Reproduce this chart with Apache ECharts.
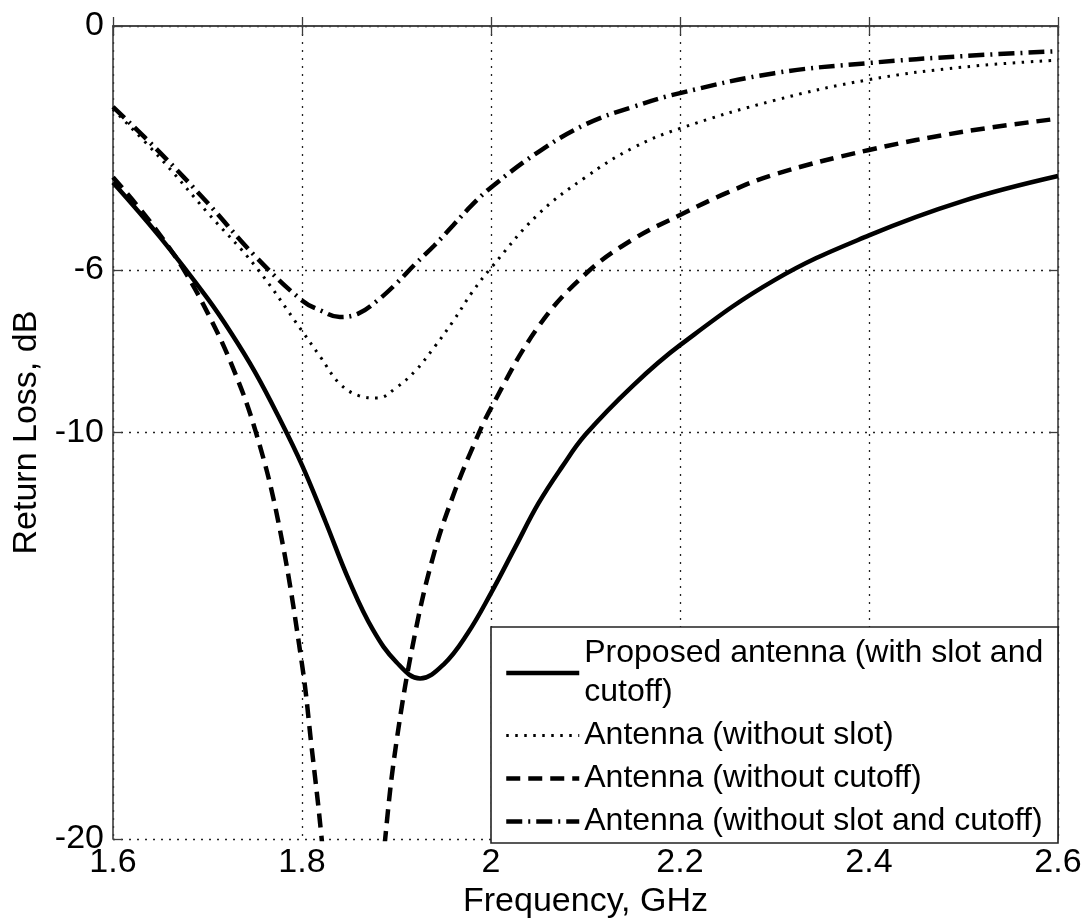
<!DOCTYPE html>
<html><head><meta charset="utf-8">
<script src="https://cdn.jsdelivr.net/npm/echarts@6/dist/echarts.min.js"></script>
<style>html,body{margin:0;padding:0;background:#fff}#c{width:1092px;height:924px}</style>
</head><body><div id="c"></div>
<script>
const freqProposed = [1.6,1.65,1.7,1.725,1.75,1.775,1.8,1.825,1.85,1.875,1.9,1.925,1.95,1.975,2.0,2.025,2.05,2.075,2.1,2.15,2.2,2.3,2.4,2.5,2.6];
const proposed = [-3.85,-5.2,-6.7,-7.55,-8.5,-9.6,-10.8,-12.2,-13.65,-14.85,-15.65,-16.05,-15.7,-14.95,-13.95,-12.85,-11.75,-10.85,-10.05,-8.85,-7.85,-6.25,-5.15,-4.3,-3.69];
const freq = [1.6,1.65,1.7,1.75,1.8,1.82,1.84,1.86,1.88,1.9,1.92,1.94,1.96,1.98,2.0,2.05,2.1,2.15,2.2,2.3,2.4,2.5,2.6];
const withoutSlot = [-2.05,-3.25,-4.59,-5.89,-7.5,-8.16,-8.8,-9.09,-9.15,-8.89,-8.48,-7.9,-7.26,-6.55,-5.95,-4.63,-3.72,-3.0,-2.52,-1.83,-1.32,-1.01,-0.84];
const withoutSlotCutoff = [-1.99,-3.12,-4.35,-5.65,-6.75,-7.0,-7.16,-7.07,-6.75,-6.33,-5.85,-5.4,-4.9,-4.4,-3.97,-3.1,-2.42,-1.99,-1.65,-1.16,-0.91,-0.74,-0.62];
const freqCutoff = [1.6,1.625,1.65,1.675,1.7,1.725,1.75,1.775,1.8,1.81,1.82,1.835,1.855,1.875,1.888,1.9,1.92,1.94,1.96,1.98,2.0,2.05,2.1,2.15,2.2,2.25,2.3,2.4,2.5,2.6];
const withoutCutoff = [-3.72,-4.4,-5.15,-6.0,-7.05,-8.3,-9.9,-12.2,-15.7,-17.7,-19.8,-23.5,-27,-23.5,-20.0,-17.6,-14.9,-12.95,-11.55,-10.4,-9.4,-7.4,-6.1,-5.25,-4.65,-4.1,-3.65,-3.05,-2.6,-2.28];
const yTicks = [-20,-10,-6,0];
const seriesNames = ['Proposed antenna (with slot and\ncutoff)','Antenna (without slot)','Antenna (without cutoff)','Antenna (without slot and cutoff)'];

const FONT = "'Liberation Sans', Arial, sans-serif";
const pairs = (xs, ys) => xs.map((f,i)=>[f,ys[i]]);
const axisLine = {show:true, lineStyle:{color:'#3c3c3c', width:1.6}};
const tick = {show:true, inside:true, length:9, lineStyle:{color:'#3c3c3c', width:1.3}};
const gridLine = {show:true, lineStyle:{color:'#222', width:1.3, type:[2,6]}};

const chart = echarts.init(document.getElementById('c'), null, {renderer:'canvas'});
chart.setOption({
  backgroundColor:'#fff',
  animation:false,
  grid:{left:113, top:26, right:34, bottom:81, containLabel:false},
  xAxis:[{
    type:'value', min:1.6, max:2.6, interval:0.2, position:'bottom',
    name:'Frequency, GHz', nameLocation:'middle', nameGap:44,
    nameTextStyle:{fontFamily:FONT, fontSize:34, color:'#000'},
    axisLine:axisLine, axisTick:tick,
    axisLabel:{fontFamily:FONT, fontSize:34, color:'#000', margin:7, formatter:v=>String(+v.toFixed(1))},
    splitLine:gridLine
  },{
    type:'value', min:1.6, max:2.6, interval:0.2, position:'top',
    axisLine:axisLine, axisTick:tick,
    axisLabel:{show:false}, splitLine:{show:false}
  }],
  yAxis:[{
    type:'value', min:-20, max:0, position:'left',
    name:'Return Loss, dB', nameLocation:'middle', nameGap:60, nameRotate:90,
    nameTextStyle:{fontFamily:FONT, fontSize:34, color:'#000'},
    axisLine:axisLine,
    axisTick:Object.assign({customValues:yTicks}, tick),
    axisLabel:{fontFamily:FONT, fontSize:34, color:'#000', margin:9, customValues:yTicks},
    splitLine:gridLine
  },{
    type:'value', min:-20, max:0, position:'right',
    axisLine:axisLine,
    axisTick:Object.assign({customValues:yTicks}, tick),
    axisLabel:{show:false, customValues:yTicks}, splitLine:{show:false}
  }],
  graphic:[{
    type:'rect', z:3, shape:{x:491, y:627, width:567, height:216},
    style:{fill:'#fff', stroke:'#222', lineWidth:1.6}
  }],
  legend:{
    z:5, left:491, top:627, orient:'vertical', padding:[7,0,0,13],
    itemWidth:73, itemHeight:14, itemGap:4,
    data:seriesNames,
    textStyle:{fontFamily:FONT, fontSize:32, lineHeight:39, color:'#000'},
    itemStyle:{opacity:0},
    lineStyle:{width:'inherit', type:'inherit', color:'#000', opacity:1},
    selectedMode:false
  },
  series:[
    {name:seriesNames[0], type:'line', data:pairs(freqProposed, proposed), smooth:0.4, symbol:'none', clip:true,
     itemStyle:{color:'#000'}, lineStyle:{color:'#000', width:4.5, type:'solid'}},
    {name:seriesNames[1], type:'line', data:pairs(freq, withoutSlot), smooth:0.4, symbol:'none', clip:true,
     itemStyle:{color:'#000'}, lineStyle:{color:'#000', width:3, type:[2.5,6.5]}},
    {name:seriesNames[2], type:'line', data:pairs(freqCutoff, withoutCutoff), smooth:0.4, symbol:'none', clip:true,
     itemStyle:{color:'#000'}, lineStyle:{color:'#000', width:4.5, type:[14,8]}},
    {name:seriesNames[3], type:'line', data:pairs(freq, withoutSlotCutoff), smooth:0.4, symbol:'none', clip:true,
     itemStyle:{color:'#000'}, lineStyle:{color:'#000', width:4.5, type:[16,6,2,6]}}
  ]
});
</script></body></html>
